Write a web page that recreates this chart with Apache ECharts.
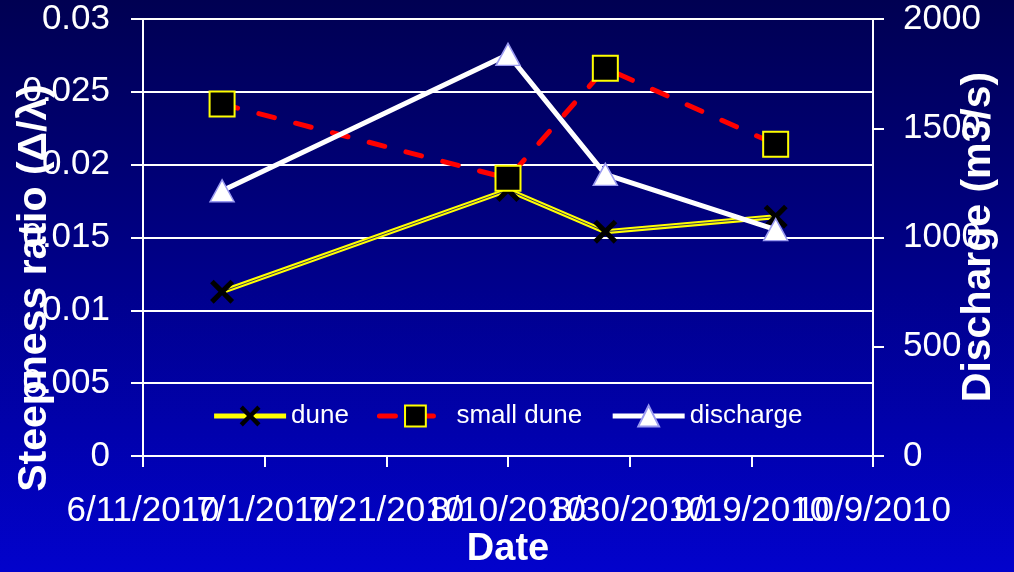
<!DOCTYPE html>
<html>
<head>
<meta charset="utf-8">
<script src="https://cdn.jsdelivr.net/npm/echarts@6/dist/echarts.min.js"></script>
<style>
  html, body { margin: 0; padding: 0; }
  #chart {
    width: 1014px; height: 572px;
    background: linear-gradient(to bottom, #000052 0%, #00008c 50%, #0202cc 100%);
  }
</style>
</head>
<body>
<div id="chart"></div>
<script>
// Survey dates and measured values
const sampleDates = ['2010-06-24', '2010-08-10', '2010-08-26', '2010-09-23'];
const duneSteepness = [0.01128, 0.01826, 0.01540, 0.01643];
const smallDuneSteepness = [0.02416, 0.01906, 0.02662, 0.02140];
const discharge = [1214, 1838, 1289, 1036];

// Date axis range (days counted from the first tick)
const axisStartDate = '2010-06-11';
const axisSpanDays = 120;
const axisTickDays = 20;

const seriesNames = ['dune', 'small dune', 'discharge'];
const leftAxisTitle = 'Steepness ratio (\u0394/\u03bb)';
const rightAxisTitle = 'Discharge (m3/s)';
const bottomAxisTitle = 'Date';

const DAY_MS = 86400000;
const startMs = Date.parse(axisStartDate);
const dayOffset = d => (Date.parse(d) - startMs) / DAY_MS;
const formatDay = v => {
  const d = new Date(startMs + v * DAY_MS);
  return (d.getUTCMonth() + 1) + '/' + d.getUTCDate() + '/' + d.getUTCFullYear();
};
const pairs = values => sampleDates.map((d, i) => [dayOffset(d), values[i]]);

const FONT = 'Arial, "Liberation Sans", sans-serif';
const crossPath = 'path://M3,0 L10,7 L17,0 L20,3 L13,10 L20,17 L17,20 L10,13 L3,20 L0,17 L7,10 L0,3 Z';
const dateLabel = { color: '#ffffff', fontSize: 35, fontFamily: FONT, margin: 38, hideOverlap: false, formatter: formatDay };
const whiteTick = { show: true, inside: false, length: 11, lineStyle: { color: '#ffffff', width: 2 } };

const chart = echarts.init(document.getElementById('chart'));
chart.setOption({
  backgroundColor: 'transparent',
  animation: false,
  grid: { left: 143, right: 141, top: 19, bottom: 116, containLabel: false },
  legend: {
    data: seriesNames,
    left: 'center',
    top: 398,
    itemWidth: 72,
    itemHeight: 26,
    itemGap: 28,
    lineStyle: { width: 5 },
    textStyle: { color: '#ffffff', fontSize: 26, fontFamily: FONT }
  },
  xAxis: [
    {
      // inner date ticks with their labels
      type: 'value',
      position: 'bottom',
      min: 0,
      max: axisSpanDays,
      interval: axisTickDays,
      axisLine: { onZero: false, lineStyle: { color: '#ffffff', width: 2 } },
      axisTick: whiteTick,
      splitLine: { show: false },
      axisLabel: Object.assign({ showMinLabel: false, showMaxLabel: false }, dateLabel)
    },
    {
      // first and last date ticks and labels of the axis
      type: 'value',
      position: 'bottom',
      min: 0,
      max: axisSpanDays,
      interval: axisSpanDays,
      axisLine: { show: false, onZero: false },
      axisTick: whiteTick,
      splitLine: { show: false },
      axisLabel: Object.assign({ showMinLabel: true, showMaxLabel: true }, dateLabel)
    }
  ],
  yAxis: [
    {
      type: 'value',
      position: 'left',
      min: 0, max: 0.03, interval: 0.005,
      axisLine: { show: true, onZero: false, lineStyle: { color: '#ffffff', width: 2 } },
      axisTick: { show: true, inside: false, length: 12, lineStyle: { color: '#ffffff', width: 2 } },
      splitLine: { show: true, lineStyle: { color: '#ffffff', width: 2 } },
      axisLabel: { color: '#ffffff', fontSize: 35, fontFamily: FONT, margin: 33 }
    },
    {
      type: 'value',
      position: 'right',
      min: 0, max: 2000, interval: 500,
      axisLine: { show: true, onZero: false, lineStyle: { color: '#ffffff', width: 2 } },
      axisTick: whiteTick,
      splitLine: { show: false },
      axisLabel: { color: '#ffffff', fontSize: 35, fontFamily: FONT, margin: 30, formatter: v => String(v) }
    }
  ],
  graphic: [
    {
      type: 'text', x: 35, y: 288, rotation: Math.PI / 2,
      style: { text: leftAxisTitle, fill: '#ffffff', font: 'bold 41px ' + FONT, align: 'center', verticalAlign: 'middle' }
    },
    {
      type: 'text', x: 979, y: 237, rotation: Math.PI / 2,
      style: { text: rightAxisTitle, fill: '#ffffff', font: 'bold 41px ' + FONT, align: 'center', verticalAlign: 'middle' }
    },
    {
      type: 'text', x: 508, y: 550,
      style: { text: bottomAxisTitle, fill: '#ffffff', font: 'bold 38px ' + FONT, align: 'center', verticalAlign: 'middle' }
    }
  ],
  series: [
    {
      name: seriesNames[0],
      type: 'line',
      xAxisIndex: 0,
      yAxisIndex: 0,
      data: pairs(duneSteepness),
      symbol: crossPath,
      symbolSize: 24,
      itemStyle: { color: '#000000' },
      lineStyle: { color: '#ffff00', width: 5 },
      z: 2
    },
    {
      // thin dark core of the dune line (double-line look)
      name: 'dune core',
      type: 'line',
      xAxisIndex: 0,
      yAxisIndex: 0,
      data: pairs(duneSteepness),
      symbol: 'none',
      lineStyle: { color: '#3a3a5a', width: 1 },
      silent: true,
      z: 2
    },
    {
      name: seriesNames[1],
      type: 'line',
      xAxisIndex: 0,
      yAxisIndex: 0,
      data: pairs(smallDuneSteepness),
      symbol: 'rect',
      symbolSize: 25,
      itemStyle: { color: '#000000', borderColor: '#ffff00', borderWidth: 2 },
      lineStyle: { color: '#ff0000', width: 5, type: [16, 22], cap: 'round' },
      z: 3
    },
    {
      name: seriesNames[2],
      type: 'line',
      xAxisIndex: 0,
      yAxisIndex: 1,
      data: pairs(discharge),
      symbol: 'triangle',
      symbolSize: [24, 22],
      itemStyle: { color: '#ffffff', borderColor: '#9a9af0', borderWidth: 1.5 },
      lineStyle: { color: '#ffffff', width: 5 },
      z: 4
    }
  ]
});
</script>
</body>
</html>
